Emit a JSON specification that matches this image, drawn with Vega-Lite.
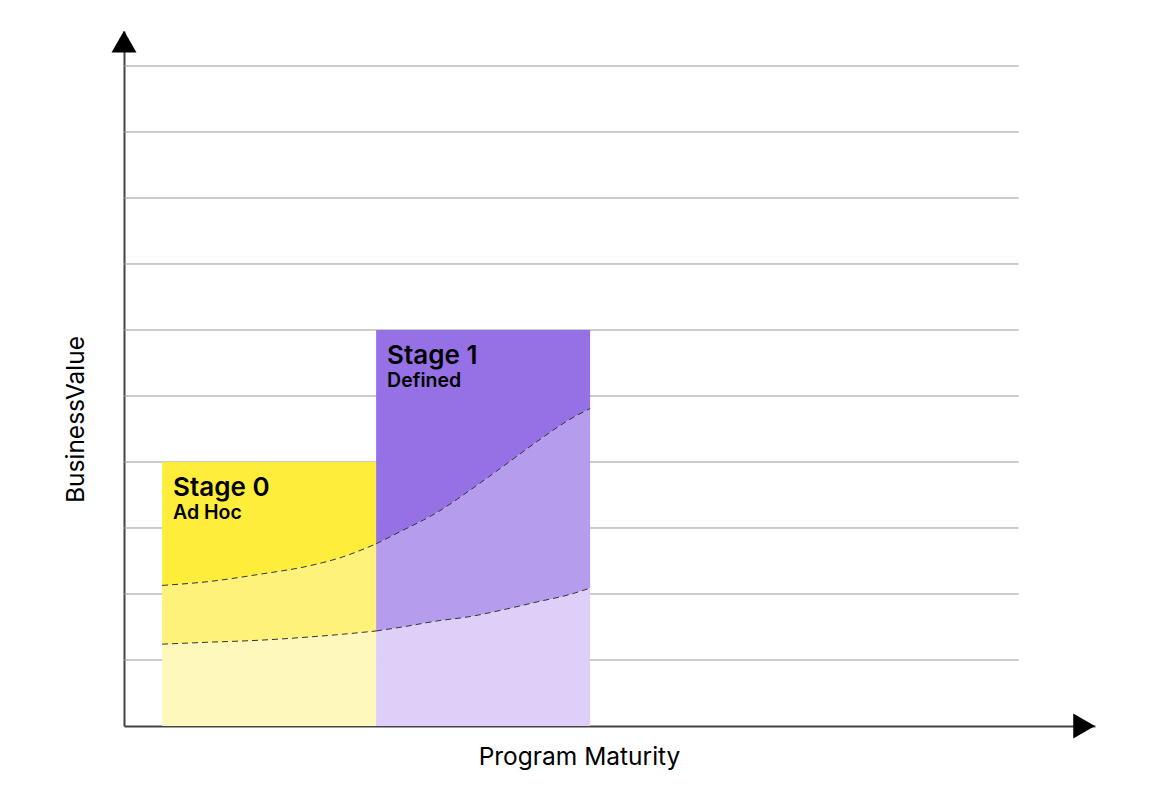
{
  "$schema": "https://vega.github.io/schema/vega-lite/v6.json",
  "autosize": {"type": "none"},
  "width": 971,
  "height": 695,
  "padding": {"left": 124, "top": 31, "right": 65, "bottom": 74},
  "background": "white",
  "config": {
    "view": {"stroke": null},
    "font": "Inter",
    "axis": {
      "domainColor": "#444444",
      "domainWidth": 2,
      "ticks": false,
      "labels": false,
      "grid": false,
      "titleFont": "Inter",
      "titleFontSize": 24.5,
      "titleFontWeight": "normal",
      "titleColor": "#000000",
      "titleBaseline": "alphabetic",
      "titleAlign": "center"
    }
  },
  "datasets": {
    "curves": [
      {"stage": "Stage 0", "x": 0.178, "lower": 1.24, "upper": 2.13, "top": 4},
      {"stage": "Stage 0", "x": 0.40, "lower": 1.27, "upper": 2.19, "top": 4},
      {"stage": "Stage 0", "x": 0.636, "lower": 1.30, "upper": 2.30, "top": 4},
      {"stage": "Stage 0", "x": 0.87, "lower": 1.35, "upper": 2.43, "top": 4},
      {"stage": "Stage 0", "x": 1.02, "lower": 1.39, "upper": 2.56, "top": 4},
      {"stage": "Stage 0", "x": 1.178, "lower": 1.44, "upper": 2.76, "top": 4},
      {"stage": "Stage 1", "x": 1.178, "lower": 1.44, "upper": 2.76, "top": 6},
      {"stage": "Stage 1", "x": 1.30, "lower": 1.50, "upper": 2.96, "top": 6},
      {"stage": "Stage 1", "x": 1.46, "lower": 1.59, "upper": 3.23, "top": 6},
      {"stage": "Stage 1", "x": 1.62, "lower": 1.66, "upper": 3.58, "top": 6},
      {"stage": "Stage 1", "x": 1.77, "lower": 1.76, "upper": 3.93, "top": 6},
      {"stage": "Stage 1", "x": 1.93, "lower": 1.88, "upper": 4.31, "top": 6},
      {"stage": "Stage 1", "x": 2.08, "lower": 1.99, "upper": 4.64, "top": 6},
      {"stage": "Stage 1", "x": 2.178, "lower": 2.09, "upper": 4.81, "top": 6}
    ],
    "stages": [
      {"stage": "Stage 0", "name": "Ad Hoc", "start": 0.178, "top": 4},
      {"stage": "Stage 1", "name": "Defined", "start": 1.178, "top": 6}
    ],
    "grid": [
      {"v": 1}, {"v": 2}, {"v": 3}, {"v": 4}, {"v": 5},
      {"v": 6}, {"v": 7}, {"v": 8}, {"v": 9}, {"v": 10}
    ]
  },
  "resolve": {"scale": {"color": "independent"}},
  "layer": [
    {
      "data": {"name": "grid"},
      "mark": {"type": "rule", "color": "#999999", "strokeWidth": 1},
      "encoding": {
        "y": {"field": "v", "type": "quantitative", "scale": {"domain": [0, 10.53], "nice": false, "zero": false},
              "axis": {"title": "BusinessValue", "titleX": -41, "titleY": 388}},
        "x": {"datum": 0, "type": "quantitative", "scale": {"domain": [0, 4.537], "nice": false, "zero": false},
              "axis": {"title": "Program Maturity", "titleX": 455, "titleY": 38}},
        "x2": {"datum": 4.18}
      }
    },
    {
      "data": {"name": "curves"},
      "mark": {"type": "area", "interpolate": "monotone"},
      "encoding": {
        "x": {"field": "x", "type": "quantitative"},
        "y": {"field": "lower", "type": "quantitative"},
        "y2": {"datum": 0},
        "color": {"field": "stage", "type": "nominal", "legend": null,
                  "scale": {"domain": ["Stage 0", "Stage 1"], "range": ["#FFF8BD", "#DDCFF7"]}}
      }
    },
    {
      "data": {"name": "curves"},
      "mark": {"type": "area", "interpolate": "monotone"},
      "encoding": {
        "x": {"field": "x", "type": "quantitative"},
        "y": {"field": "upper", "type": "quantitative"},
        "y2": {"field": "lower"},
        "color": {"field": "stage", "type": "nominal", "legend": null,
                  "scale": {"domain": ["Stage 0", "Stage 1"], "range": ["#FFF27B", "#B59CED"]}}
      }
    },
    {
      "data": {"name": "curves"},
      "mark": {"type": "area", "interpolate": "monotone"},
      "encoding": {
        "x": {"field": "x", "type": "quantitative"},
        "y": {"field": "top", "type": "quantitative"},
        "y2": {"field": "upper"},
        "color": {"field": "stage", "type": "nominal", "legend": null,
                  "scale": {"domain": ["Stage 0", "Stage 1"], "range": ["#FFED3B", "#9671E6"]}}
      }
    },
    {
      "data": {"name": "curves"},
      "mark": {"type": "line", "interpolate": "monotone", "color": "#333333", "strokeWidth": 1, "strokeDash": [6, 4]},
      "encoding": {
        "x": {"field": "x", "type": "quantitative"},
        "y": {"field": "lower", "type": "quantitative"},
        "detail": {"field": "stage", "type": "nominal"}
      }
    },
    {
      "data": {"name": "curves"},
      "mark": {"type": "line", "interpolate": "monotone", "color": "#333333", "strokeWidth": 1, "strokeDash": [6, 4]},
      "encoding": {
        "x": {"field": "x", "type": "quantitative"},
        "y": {"field": "upper", "type": "quantitative"},
        "detail": {"field": "stage", "type": "nominal"}
      }
    },
    {
      "data": {"name": "stages"},
      "mark": {"type": "text", "align": "left", "baseline": "alphabetic", "dx": 11, "dy": 34,
               "font": "Inter", "fontSize": 26, "fontWeight": 600, "color": "#000000"},
      "encoding": {
        "x": {"field": "start", "type": "quantitative"},
        "y": {"field": "top", "type": "quantitative"},
        "text": {"field": "stage"}
      }
    },
    {
      "data": {"name": "stages"},
      "mark": {"type": "text", "align": "left", "baseline": "alphabetic", "dx": 11, "dy": 57,
               "font": "Inter", "fontSize": 19.5, "fontWeight": 600, "color": "#000000"},
      "encoding": {
        "x": {"field": "start", "type": "quantitative"},
        "y": {"field": "top", "type": "quantitative"},
        "text": {"field": "name"}
      }
    },
    {
      "data": {"values": [{}]},
      "mark": {"type": "point", "shape": "triangle-up", "filled": true, "size": 625, "color": "#000000", "opacity": 1},
      "encoding": {
        "x": {"datum": 0, "type": "quantitative"},
        "y": {"datum": 10.37, "type": "quantitative"}
      }
    },
    {
      "data": {"values": [{}]},
      "mark": {"type": "point", "shape": "triangle-right", "filled": true, "size": 625, "color": "#000000", "opacity": 1},
      "encoding": {
        "x": {"datum": 4.486, "type": "quantitative"},
        "y": {"datum": 0, "type": "quantitative"}
      }
    }
  ]
}
